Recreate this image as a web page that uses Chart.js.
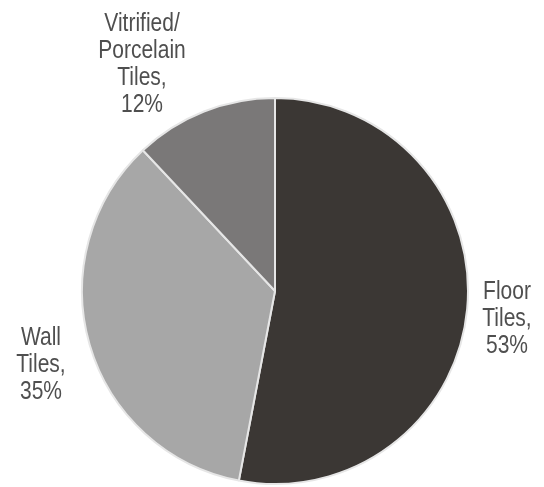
<!DOCTYPE html>
<html lang="en">
<head>
  <meta charset="UTF-8">
  <title>Tile Market Share</title>
  <style>
    *{box-sizing:border-box;margin:0;padding:0}
    html,body{background:#fff;width:544px;height:487px;overflow:hidden}
    #wrap{position:relative;width:544px;height:487px}
  </style>
</head>
<body>
  <div id="wrap"><canvas id="pie"></canvas></div>

  <script src="https://cdn.jsdelivr.net/npm/chart.js"></script>
  <script>
    // segments, clockwise from 12 o'clock
    const categories = ['Floor Tiles', 'Wall Tiles', 'Vitrified/Porcelain Tiles'];
    const shares = [53, 35, 12];
    const labelLines = [
      ['Floor', 'Tiles,', '53%'],
      ['Wall', 'Tiles,', '35%'],
      ['Vitrified/', 'Porcelain', 'Tiles,', '12%']
    ];
    const sliceColors = ['#3b3734', '#a7a7a7', '#7a7878'];

    // outside labels, drawn in a narrow grey face
    const outsideLabels = {
      id: 'outsideLabels',
      afterDatasetsDraw(chart) {
        const ctx = chart.ctx;
        const spots = [
          {x: 507, y: 299},
          {x: 41, y: 345},
          {x: 142, y: 31}
        ];
        ctx.save();
        ctx.fillStyle = '#4f4f4f';
        ctx.font = '25px "Liberation Sans", Arial, sans-serif';
        ctx.textAlign = 'center';
        ctx.textBaseline = 'alphabetic';
        labelLines.forEach((lines, i) => {
          const s = spots[i];
          lines.forEach((t, k) => {
            ctx.save();
            ctx.translate(s.x, s.y + k * 27);
            ctx.scale(0.84, 1);
            ctx.fillText(t, 0, 0);
            ctx.restore();
          });
        });
        ctx.restore();
      }
    };

    new Chart(document.getElementById('pie'), {
      type: 'pie',
      data: {
        labels: categories,
        datasets: [{
          data: shares,
          backgroundColor: sliceColors,
          borderColor: '#e6e6e6',
          borderWidth: 2
        }]
      },
      options: {
        responsive: true,
        maintainAspectRatio: false,
        animation: false,
        layout: {padding: {top: 97, bottom: 2, left: 81, right: 75}},
        plugins: {
          legend: {display: false},
          tooltip: {enabled: false}
        }
      },
      plugins: [outsideLabels]
    });
  </script>
</body>
</html>
